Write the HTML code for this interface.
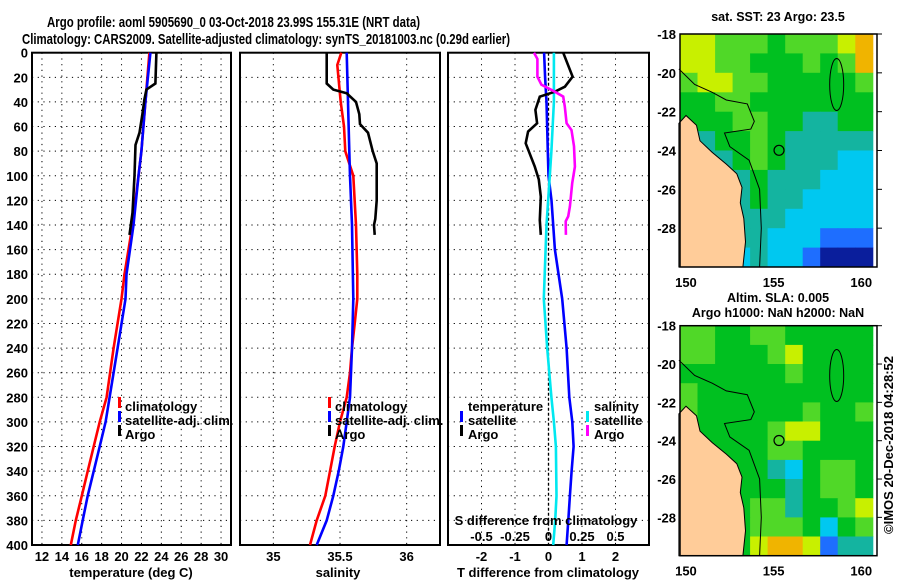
<!DOCTYPE html>
<html><head><meta charset="utf-8"><style>
html,body{margin:0;padding:0;background:#fff;width:900px;height:580px;overflow:hidden}
svg{display:block}
text{font-family:"Liberation Sans",sans-serif;font-weight:bold;fill:#000}
</style></head><body>
<svg id="c" width="900" height="580" viewBox="0 0 900 580"></svg>
<script>
// ---- data ----
const climDepth=[0,40,80,100,140,180,200,240,280,300,320,340,360,380,400];
const climT=[22.8,22.4,22.0,21.7,21.1,20.3,20.0,19.2,18.5,17.8,17.2,16.6,16.0,15.4,14.9];
const satT=[22.9,22.4,22.0,21.7,21.2,20.5,20.4,19.6,18.8,18.4,17.8,17.2,16.6,16.1,15.6];
const climSDepth=[0,10,40,60,80,100,140,180,200,220,240,260,280,300,320,340,360,380,400];
const climS=[35.51,35.48,35.505,35.53,35.54,35.60,35.62,35.63,35.63,35.61,35.59,35.575,35.55,35.50,35.46,35.425,35.39,35.325,35.275];
const satSDepth=[0,40,80,100,140,200,240,280,300,320,340,360,380,400];
const satS=[35.55,35.56,35.57,35.575,35.59,35.60,35.59,35.575,35.55,35.525,35.49,35.45,35.40,35.325];
const argoTDepth=[0,25,30,38,50,65,75,100,130,148];
const argoT=[23.5,23.4,22.5,22.3,22.1,21.8,21.4,21.3,21.1,20.8];
const argoSDepth=[0,25,30,33,40,50,58,65,80,90,120,135,140,148];
const argoS=[35.40,35.40,35.45,35.55,35.62,35.645,35.65,35.71,35.745,35.775,35.775,35.765,35.755,35.76];
const dTDepth=[0,20,40,80,100,120,160,200,240,280,300,320,340,360,380,400];
const dTsat=[-0.13,-0.1,-0.06,-0.02,0.0,0.09,0.19,0.41,0.54,0.62,0.71,0.75,0.69,0.64,0.59,0.54];
const dSDepth=[0,20,40,80,100,140,180,200,240,280,300,320,360,380,400];
const dSsat=[0.04,0.04,0.04,0.022,0.01,-0.015,-0.028,-0.035,-0.01,0.022,0.04,0.055,0.06,0.05,0.035];
const dTArgoDepth=[0,19.5,27.6,31.7,35.7,46.5,57.4,64,73.6,92.6,103,117,136,148];
const dTArgo=[0.44,0.72,0.49,0.19,-0.26,-0.39,-0.34,-0.61,-0.68,-0.41,-0.29,-0.23,-0.26,-0.23];
const dSArgoDepth=[0,5,19.5,26,31.7,35.7,43.8,57.4,62.9,76,92.6,106,125,133,137,148];
const dSArgo=[-0.108,-0.083,-0.083,-0.053,0.047,0.11,0.122,0.135,0.172,0.19,0.197,0.177,0.16,0.147,0.128,0.13];
const depthTicks=[0,20,40,60,80,100,120,140,160,180,200,220,240,260,280,300,320,340,360,380,400];
const tTicks=[12,14,16,18,20,22,24,26,28,30];
const sTicks=[35,35.5,36];
const sTickLabels=["35","35.5","36"];
const dTTicks=[-2,-1,0,1,2];
const dSTicks=[-0.5,-0.25,0,0.25,0.5];
const latTicks=[-18,-20,-22,-24,-26,-28];
const lonTicks=[150,155,160];
const sstGrid=[
[6,6,5,5,5,4,5,5,5,6,7],[6,6,5,5,4,4,4,5,4,5,7],[5,6,6,5,5,4,4,4,4,4,5],[4,4,5,5,4,4,4,4,4,4,4],
[4,4,4,5,5,4,4,3,3,4,4],[3,3,4,4,5,4,3,3,3,3,3],[3,3,3,4,5,4,3,3,3,2,2],[3,3,3,3,4,3,3,3,2,2,2],
[3,3,3,3,4,3,3,2,2,2,2],[3,3,3,3,3,3,2,2,2,2,2],[3,3,3,3,3,2,2,2,1,1,1],[3,3,3,2,3,2,2,1,0,0,0]];
const slaGrid=[
[5,5,4,4,5,5,4,4,4,4,4],[5,5,4,4,4,5,6,4,4,4,4],[4,4,4,4,4,4,5,4,4,4,4],[5,4,4,4,4,4,4,4,4,4,4],
[5,4,4,4,4,4,4,5,4,4,5],[4,4,4,4,4,5,6,6,4,4,4],[4,4,4,4,4,5,5,4,4,4,4],[4,4,4,4,4,3,2,4,5,5,4],
[4,4,4,4,4,4,3,4,5,5,4],[4,4,4,4,5,5,3,4,4,5,6],[4,4,4,4,5,5,5,4,2,4,5],[4,4,4,4,6,7,7,6,1,3,3]];
const palette=["#0a1e9c","#1e6eff","#00c8f0","#14b4a0","#00c020","#50d828","#c8f000","#f0b400"];
const landLon=[149.6,150.0,150.6,150.8,151.5,152.3,152.9,153.2,153.1,153.3,153.4,153.25,149.6];
const landLat=[-22.6,-22.2,-22.7,-23.5,-24.1,-24.7,-25.2,-25.9,-26.7,-27.5,-28.7,-30,-30];
const isoLon=[149.6,150.5,151.5,152.3,153.5,153.9,153.7,152.2,152.5,153.6,154.2,154.3,154.2];
const isoLat=[-19.8,-20.6,-21.0,-21.4,-21.6,-22.5,-22.9,-23.1,-23.8,-24.5,-26.0,-28.0,-30];
const argoLon=155.31, argoLat=-23.99;

// ---- helpers ----
const NS="http://www.w3.org/2000/svg", svg=document.getElementById('c');
function el(tag,attrs,parent){const e=document.createElementNS(NS,tag);for(const k in attrs)e.setAttribute(k,attrs[k]);(parent||svg).appendChild(e);return e;}
function txt(s,x,y,size,anchor,parent){const t=el('text',{x:x,y:y,'font-size':size,'text-anchor':anchor||'start'},parent);t.textContent=s;return t;}
const Y0=52.7,Y1=545;
const yD=d=>Y0+d*(Y1-Y0)/400;
const xT=v=>32+(v-11)*(231-32)/20;
const xS=v=>240+(v-34.75)*(440-240)/1.5;
const xDT=v=>448+(v+3)*(649-448)/6;
const xDS=v=>448+(v+0.75)*(649-448)/1.5;
function line(xs,ds,fx,color,name,g){
  const pts=xs.map((v,i)=>fx(v).toFixed(1)+','+yD(ds[i]).toFixed(1)).join(' ');
  const p=el('polyline',{points:pts,fill:'none',stroke:color,'stroke-width':2.6},g);
  
  
}
function frame(x0,x1,gridXs,name){
  const g=el('g',{});
  
  
  depthTicks.forEach(d=>{if(d>0&&d<400)el('line',{x1:x0,x2:x1,y1:yD(d),y2:yD(d),stroke:'#000','stroke-width':1,'stroke-dasharray':'1.2,4.5'},g);});
  gridXs.forEach(x=>el('line',{x1:x,x2:x,y1:Y0,y2:Y1,stroke:'#000','stroke-width':1,'stroke-dasharray':'1.2,4.5'},g));
  el('rect',{x:x0,y:Y0,width:x1-x0,height:Y1-Y0,fill:'none',stroke:'#000','stroke-width':2},g);
  return g;
}
function tick(x,y,c,parent){el('rect',{x:x,y:y-10,width:3,height:11,fill:c},parent);}

// ---- titles ----
let t1=txt('Argo profile: aoml 5905690_0 03-Oct-2018 23.99S 155.31E (NRT data)',47,27,15);
t1.setAttribute('textLength','373');t1.setAttribute('lengthAdjust','spacingAndGlyphs');

let t2=txt('Climatology: CARS2009. Satellite-adjusted climatology: synTS_20181003.nc (0.29d earlier)',22,44,15);
t2.setAttribute('textLength','488');t2.setAttribute('lengthAdjust','spacingAndGlyphs');


// depth labels
const yl=el('g',{});

depthTicks.forEach(d=>txt(String(d),28,yD(d)+5,13,'end',yl));

// ---- panel 1: temperature ----
const g1=frame(32,231,tTicks.map(xT),'temperature-panel');
line(climT,climDepth,xT,'#f00','climatology-temperature-line',g1);
line(satT,climDepth,xT,'#00f','satellite-temperature-line',g1);
line(argoT,argoTDepth,xT,'#000','argo-temperature-line',g1);
tTicks.forEach(v=>txt(String(v),xT(v),561,13,'middle',g1));
txt('temperature (deg C)',131,577,13,'middle',g1);
const l1=el('g',{});
tick(118,407,'#f00',l1);txt('climatology',125,411,13,'start',l1);
tick(118,421,'#00f',l1);txt('satellite-adj. clim.',125,425,13,'start',l1);
tick(118,435,'#000',l1);txt('Argo',125,439,13,'start',l1);

// ---- panel 2: salinity ----
const g2=frame(240,440,sTicks.map(xS),'salinity-panel');
line(climS,climSDepth,xS,'#f00','climatology-salinity-line',g2);
line(satS,satSDepth,xS,'#00f','satellite-salinity-line',g2);
line(argoS,argoSDepth,xS,'#000','argo-salinity-line',g2);
sTicks.forEach((v,i)=>txt(sTickLabels[i],xS(v),561,13,'middle',g2));
txt('salinity',338,577,13,'middle',g2);
const l2=el('g',{});
tick(328,407,'#f00',l2);txt('climatology',335,411,13,'start',l2);
tick(328,421,'#00f',l2);txt('satellite-adj. clim.',335,425,13,'start',l2);
tick(328,435,'#000',l2);txt('Argo',335,439,13,'start',l2);

// ---- panel 3: differences ----
const g3=frame(448,649,dTTicks.filter(v=>v!==0).map(xDT),'difference-panel');
el('line',{x1:xDT(0),x2:xDT(0),y1:Y0,y2:Y1,stroke:'#000','stroke-width':1.3,'stroke-dasharray':'3,2'},g3);
line(dTsat,dTDepth,xDT,'#00f','satellite-t-difference-line',g3);
line(dSsat,dSDepth,xDS,'#00e8f0','satellite-s-difference-line',g3);
line(dTArgo,dTArgoDepth,xDT,'#000','argo-t-difference-line',g3);
line(dSArgo,dSArgoDepth,xDS,'#f0f','argo-s-difference-line',g3);
dTTicks.forEach(v=>txt(String(v),xDT(v),561,13,'middle',g3));
txt('T difference from climatology',548,577,13,'middle',g3);
dSTicks.forEach(v=>txt(String(v),xDS(v),541,13,'middle',g3));
txt('S difference from climatology',546,525,13,'middle',g3);
const l3=el('g',{});
txt('temperature',468,411,13,'start',l3);
tick(460,421,'#00f',l3);txt('satellite',468,425,13,'start',l3);
tick(460,435,'#000',l3);txt('Argo',468,439,13,'start',l3);
txt('salinity',594,411,13,'start',l3);
tick(586,421,'#00e8f0',l3);txt('satellite',594,425,13,'start',l3);
tick(586,435,'#f0f',l3);txt('Argo',594,439,13,'start',l3);

// ---- maps ----
function map(top,bottom,grid,name,title,titleY){
  const x0=680,x1=877;
  const fx=lon=>x0+(lon-149.66)*(x1-x0)/(160.9-149.66);
  const fy=lat=>top+(-18-lat)*(bottom-top)/12;
  const g=el('g',{});
  
  grid.forEach((row,r)=>row.forEach((v,c)=>{
    const cx=fx(150+c)-(fx(150.34)-fx(150)), cy=fy(-18-r);
    const w=fx(151)-fx(150), h=fy(-19)-fy(-18);
    const rc=el('rect',{x:Math.max(x0,cx).toFixed(1),y:cy.toFixed(1),width:(Math.min(cx+w,x1)-Math.max(x0,cx)+0.5).toFixed(1),height:(h+0.5).toFixed(1),fill:palette[v]},g);
    
    
  }));
  const land=el('polygon',{points:landLon.map((l,i)=>fx(l).toFixed(1)+','+fy(landLat[i]).toFixed(1)).join(' '),fill:'#ffcc99',stroke:'#000','stroke-width':1},g);
  
  el('polyline',{points:isoLon.map((l,i)=>fx(l).toFixed(1)+','+fy(isoLat[i]).toFixed(1)).join(' '),fill:'none',stroke:'#000','stroke-width':1},g);
  el('ellipse',{cx:fx(158.6),cy:fy(-20.6),rx:7,ry:26,fill:'none',stroke:'#000','stroke-width':1},g);
  const m=el('circle',{cx:fx(argoLon),cy:fy(argoLat),r:5,fill:'none',stroke:'#000','stroke-width':1.2},g);
  
  el('rect',{x:x0,y:top,width:x1-x0,height:bottom-top,fill:'none',stroke:'#000','stroke-width':1.5},g);
  latTicks.forEach(l=>{txt(String(l),676,fy(l)+5,13,'end',g);el('line',{x1:x1,x2:x1+5,y1:fy(l),y2:fy(l),stroke:'#000'},g);});
  lonTicks.forEach(l=>txt(String(l),fx(l),bottom+20,13,'middle',g));
  title.forEach((s,i)=>txt(s,778,titleY+i*15,12.5,'middle',g));
}
map(34,267,sstGrid,'sst-map',['sat. SST: 23 Argo: 23.5'],21);
map(325.7,555.7,slaGrid,'sla-map',['Altim. SLA: 0.005','Argo h1000: NaN h2000: NaN'],302);
const cr=txt('©IMOS 20-Dec-2018 04:28:52',0,0,13,'middle');
cr.setAttribute('transform','translate(893,445) rotate(-90)');
cr.setAttribute('font-weight','normal');

</script>
</body></html>
